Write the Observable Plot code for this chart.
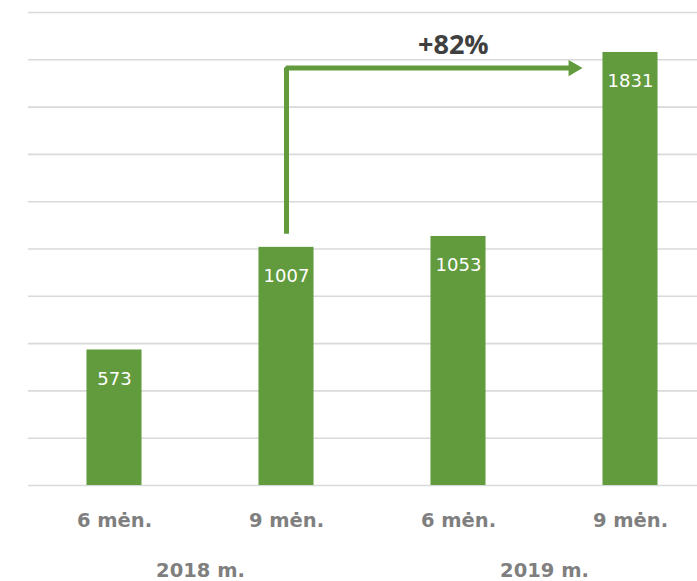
<!DOCTYPE html>
<html>
<head>
<meta charset="utf-8">
<script src="https://cdn.jsdelivr.net/npm/d3@7"></script>
<script src="https://cdn.jsdelivr.net/npm/@observablehq/plot@0.6"></script>
<style>
  html, body { margin: 0; padding: 0; background: #fff; }
  #chart svg { display: block; font-family: "DejaVu Sans", sans-serif; }
</style>
</head>
<body>
<div id="chart"></div>
<script>
// Data
const categories = ["6 mėn.", "9 mėn.", "6 mėn.", "9 mėn."];
const values = [573, 1007, 1053, 1831];
const years = ["2018 m.", "2019 m."];
const yearPositions = [0.5, 2.5];
const gridTicks = [0, 200, 400, 600, 800, 1000, 1200, 1400, 1600, 1800, 2000];
const growthLabel = "+82%";

const green = "#629b3e";
const rows = values.map((v, i) => ({i, v, cat: categories[i]}));

// Arrow annotation (in data units)
const arrowPath = [
  {x: 1, y: 1065},
  {x: 1, y: 1765},
  {x: 2.66, y: 1765}
];

const chart = Plot.plot({
  width: 697,
  height: 581,
  marginTop: 12,
  marginBottom: 96,
  marginLeft: 28,
  marginRight: 0,
  x: {type: "linear", domain: [-0.5, 3.5], range: [28, 716], axis: null},
  y: {domain: [0, 2000], axis: null},
  marks: [
    Plot.ruleY(gridTicks, {stroke: "#d9d9d9", strokeWidth: 1.6}),
    Plot.rectY(rows, {x1: d => d.i - 0.16, x2: d => d.i + 0.16, y1: 0, y2: "v", fill: green}),
    Plot.text(rows, {x: "i", y: "v", text: d => String(d.v), fill: "white", fontSize: 18, dy: 29, lineAnchor: "middle"}),
    Plot.text(rows, {x: "i", text: "cat", frameAnchor: "bottom", dy: 35, lineAnchor: "middle", fill: "#7f7f7f", fontSize: 19.5, fontWeight: "bold"}),
    Plot.text(years, {x: (d, k) => yearPositions[k], text: d => d, frameAnchor: "bottom", dy: 85, lineAnchor: "middle", fill: "#7f7f7f", fontSize: 19.5, fontWeight: "bold"}),
    Plot.line(arrowPath, {x: "x", y: "y", stroke: green, strokeWidth: 5, strokeLinejoin: "miter", strokeLinecap: "butt"}),
    Plot.dot([{x: 2.667, y: 1765}], {x: "x", y: "y", symbol: "triangle", r: 6, rotate: 90, fill: green, stroke: "none"}),
    Plot.text([{x: 1.97, y: 1860}], {x: "x", y: "y", text: () => growthLabel, fill: "#404040", fontSize: 27, fontWeight: "bold", fontFamily: "Open Sans", lineAnchor: "middle"})
  ]
});
document.getElementById("chart").appendChild(chart);
</script>
</body>
</html>
